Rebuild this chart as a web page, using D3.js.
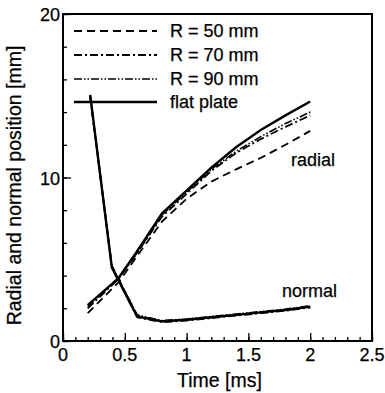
<!DOCTYPE html>
<html>
<head>
<meta charset="utf-8">
<script src="https://cdn.jsdelivr.net/npm/d3@7"></script>
<style>
  body { margin: 0; background: #fff; }
  svg text { font-family: "Liberation Sans", Arial, sans-serif; fill: #000; stroke: #000; stroke-width: 0.25px; }
</style>
</head>
<body>
<div id="main"></div>
<script>
// time samples (ms)
const radialTime = [0.2, 0.45, 0.6, 0.8, 1.0, 1.2, 1.4, 1.6, 1.8, 2.0];
const radialFlat = [2.2, 3.85, 5.5, 7.8, 9.2, 10.6, 11.85, 12.9, 13.8, 14.65];
const radialR90 = [2.1, 3.85, 5.4, 7.7, 9.1, 10.5, 11.6, 12.5, 13.3, 14.0];
const radialR70 = [2.0, 3.8, 5.4, 7.6, 9.0, 10.4, 11.5, 12.35, 13.1, 13.8];
const radialR50 = [1.7, 3.6, 5.2, 7.3, 8.7, 9.75, 10.5, 11.2, 12.0, 12.85];

const normalTime = [0.22, 0.395, 0.6, 0.8, 1.0, 1.2, 1.4, 1.6, 1.8, 2.0];
const normalFlat = [15.05, 4.5, 1.5, 1.2, 1.3, 1.45, 1.6, 1.75, 1.9, 2.1];
const normalR90 = [15.0, 4.6, 1.6, 1.25, 1.35, 1.5, 1.65, 1.8, 1.95, 2.15];
const normalR70 = [14.95, 4.5, 1.45, 1.15, 1.25, 1.4, 1.55, 1.7, 1.85, 2.05];
const normalR50 = [14.95, 4.6, 1.55, 1.2, 1.3, 1.45, 1.6, 1.75, 1.9, 2.1];

const seriesNames = ["R = 50 mm", "R = 70 mm", "R = 90 mm", "flat plate"];
const xTicks = [0, 0.5, 1, 1.5, 2, 2.5];
const yTicks = [0, 10, 20];

const W = 385, H = 393;
const m = {left: 63, right: 13, top: 14, bottom: 52};

const svg = d3.select("#main").append("svg")
    .attr("width", W)
    .attr("height", H);

const x = d3.scaleLinear().domain([0, 2.5]).range([m.left, W - m.right]);
const y = d3.scaleLinear().domain([0, 20]).range([H - m.bottom, m.top]);

const styles = [
    {dash: "8,5", width: 1.8},
    {dash: "8,3,2,3", width: 1.8},
    {dash: "8,2,1.5,2,1.5,2", width: 1.6},
    {dash: null, width: 2.4}
];

const radial = [radialR50, radialR70, radialR90, radialFlat];
const normal = [normalR50, normalR70, normalR90, normalFlat];

const line = d3.line().x(d => x(d[0])).y(d => y(d[1]));

function drawCurve(t, v, st) {
    svg.append("path")
        .datum(t.map((d, i) => [d, v[i]]))
        .attr("d", line)
        .attr("fill", "none")
        .attr("stroke", "#000")
        .attr("stroke-width", st.width)
        .attr("stroke-dasharray", st.dash);
}

radial.forEach((v, i) => drawCurve(radialTime, v, styles[i]));
normal.forEach((v, i) => drawCurve(normalTime, v, styles[i]));

// frame
svg.append("rect")
    .attr("x", x(0)).attr("y", y(20))
    .attr("width", x(2.5) - x(0)).attr("height", y(0) - y(20))
    .attr("fill", "none").attr("stroke", "#000").attr("stroke-width", 2);

// x axis, ticks pointing inward
const xAxis = svg.append("g").attr("transform", `translate(0,${y(0)})`);
xAxis.call(d3.axisTop(x).tickValues(d3.range(0, 2.51, 0.1)).tickSize(4).tickFormat(""));
xAxis.call(g => g.append("g").call(d3.axisTop(x).tickValues(xTicks).tickSize(8).tickFormat("")));
xAxis.selectAll(".domain").remove();
xAxis.selectAll("line").attr("stroke", "#000").attr("stroke-width", 1.3);

svg.append("g").selectAll("text").data(xTicks).enter().append("text")
    .attr("x", d => x(d)).attr("y", y(0) + 20)
    .attr("text-anchor", "middle")
    .style("font-size", "18px")
    .text(d => d);

// y axis, ticks pointing inward
const yAxis = svg.append("g").attr("transform", `translate(${x(0)},0)`);
yAxis.call(d3.axisRight(y).tickValues(d3.range(0, 20.1, 2)).tickSize(4).tickFormat(""));
yAxis.call(g => g.append("g").call(d3.axisRight(y).tickValues(yTicks).tickSize(8).tickFormat("")));
yAxis.selectAll(".domain").remove();
yAxis.selectAll("line").attr("stroke", "#000").attr("stroke-width", 1.3);

svg.append("g").selectAll("text").data(yTicks).enter().append("text")
    .attr("x", x(0) - 3).attr("y", d => y(d) + 7)
    .attr("text-anchor", "end")
    .style("font-size", "18px")
    .text(d => d);

// axis titles
svg.append("text")
    .attr("x", (x(0) + x(2.5)) / 2 + 2).attr("y", 387)
    .attr("text-anchor", "middle")
    .style("font-size", "19.5px")
    .text("Time [ms]");

svg.append("text")
    .attr("transform", `translate(21,${(y(0) + y(20)) / 2 + 8}) rotate(-90)`)
    .attr("text-anchor", "middle")
    .style("font-size", "19.5px")
    .text("Radial and normal position [mm]");

// curve labels
svg.append("text").attr("x", 291).attr("y", 166)
    .style("font-size", "18px").text("radial");
svg.append("text").attr("x", 282).attr("y", 297)
    .style("font-size", "18px").text("normal");

// legend
const legendY = [31, 55, 79, 102];
seriesNames.forEach((name, i) => {
    svg.append("line")
        .attr("x1", 74).attr("x2", 157)
        .attr("y1", legendY[i]).attr("y2", legendY[i])
        .attr("stroke", "#000")
        .attr("stroke-width", styles[i].width)
        .attr("stroke-dasharray", styles[i].dash);
    svg.append("text")
        .attr("x", 170).attr("y", legendY[i] + 6)
        .style("font-size", "18px")
        .text(name);
});
</script>
</body>
</html>
